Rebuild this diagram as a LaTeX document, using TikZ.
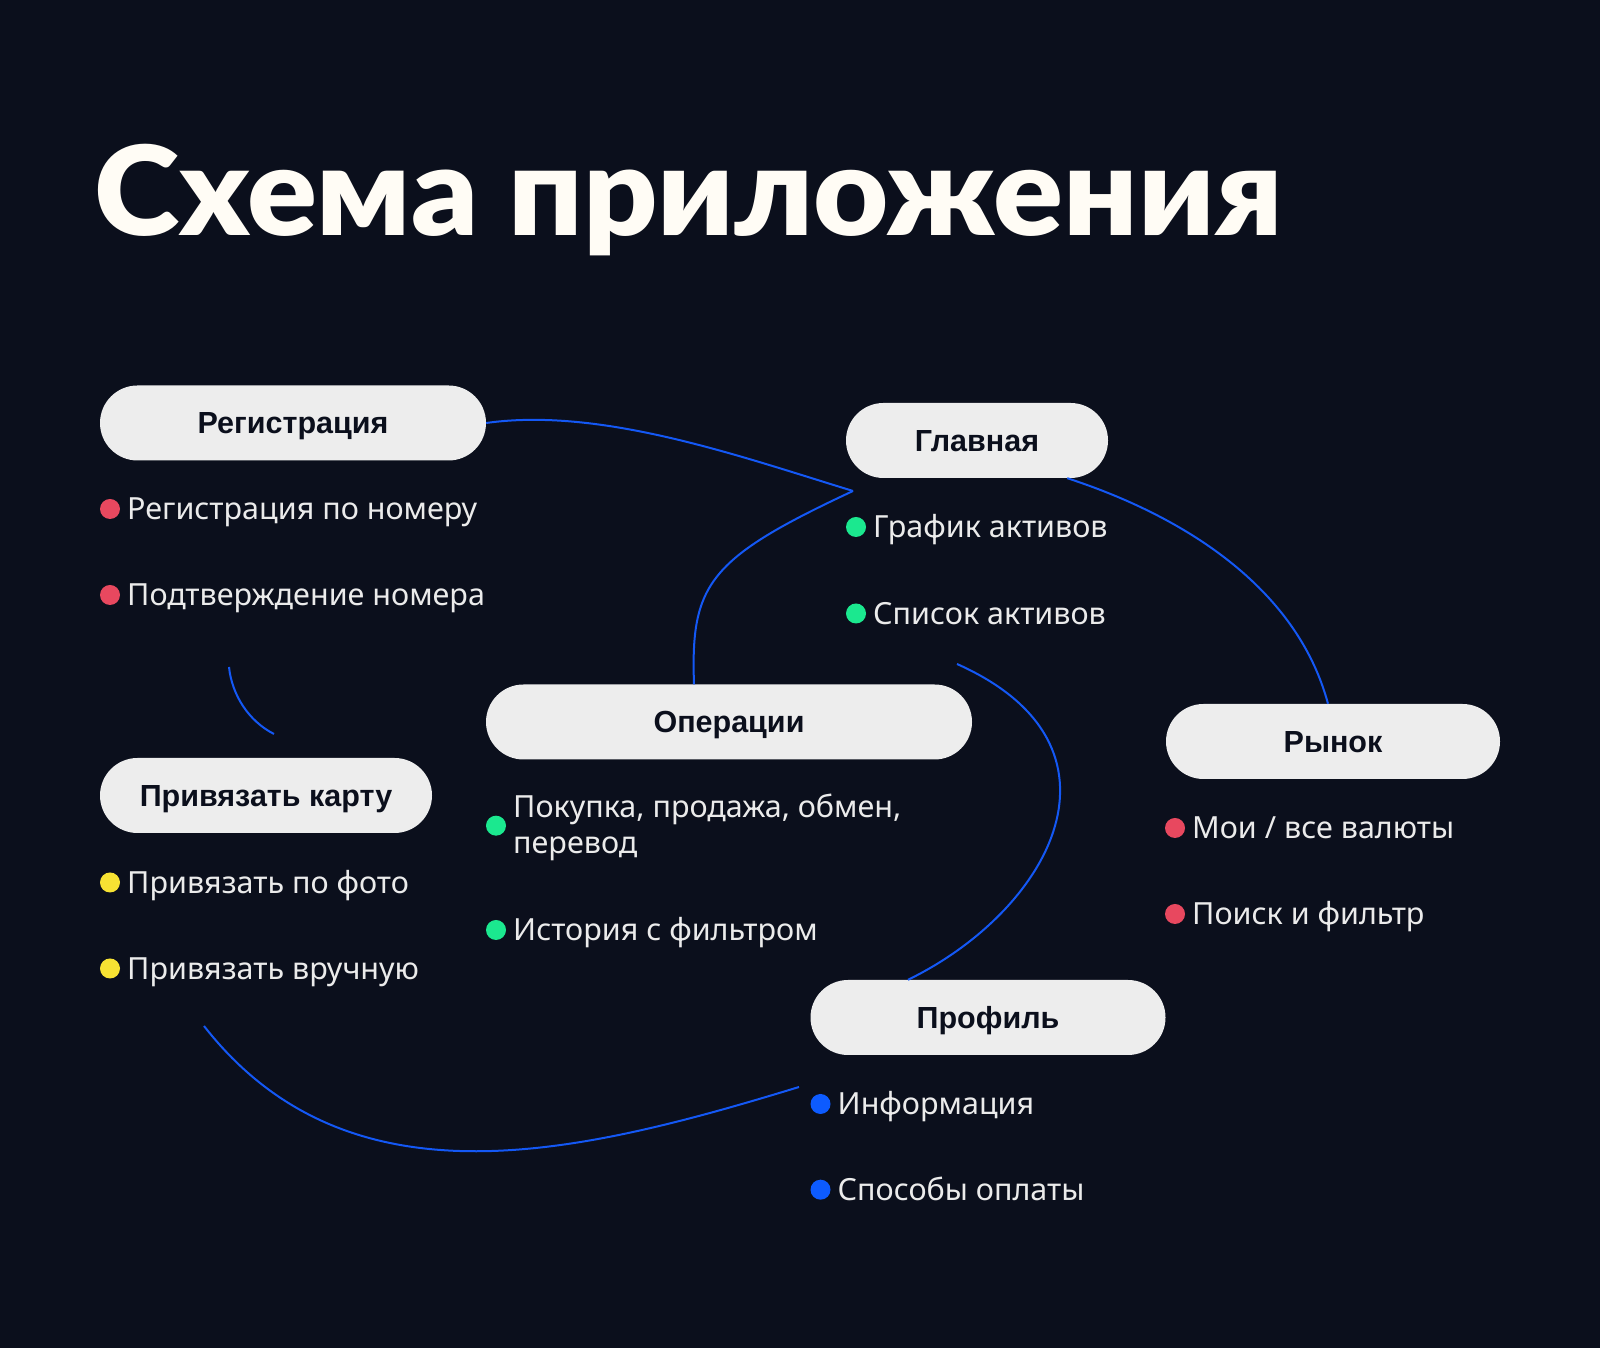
\documentclass[tikz,border=0pt]{standalone}
\usepackage{fontspec}
\setmainfont{Noto Sans}
\IfFontExistsTF{Lato Black}{\newfontfamily\titlefont{Lato Black}}{\newfontfamily\titlefont{Liberation Sans Bold}[FakeBold=2]}
\IfFontExistsTF{Noto Sans Bold}{\newfontfamily\labelfont{Noto Sans Bold}}{\newfontfamily\labelfont{Liberation Sans Bold}}
\usetikzlibrary{calc}
\definecolor{bg}{HTML}{0B0F1C}
\definecolor{pill}{HTML}{EDEDED}
\definecolor{ink}{HTML}{0B0F1C}
\definecolor{paper}{HTML}{EBEBEB}
\definecolor{snow}{HTML}{FFFCF5}
\definecolor{dotred}{HTML}{E8485F}
\definecolor{dotgreen}{HTML}{1BE88F}
\definecolor{dotyellow}{HTML}{F7E233}
\definecolor{dotblue}{HTML}{0D5BFF}
\definecolor{wire}{HTML}{1458F5}
\tikzset{
  screen/.style={fill=pill, text=ink, rounded corners=37.5pt, minimum height=75pt, inner sep=0pt,
    text height=22pt, text depth=0pt, font=\labelfont\fontsize{30.5}{36}\selectfont},
  itemtext/.style={anchor=base west, inner sep=0pt, text=paper, font=\fontsize{30.5}{36}\selectfont},
  link/.style={draw=wire, line width=2pt},
}
\def\dotitem[#1](#2,#3)#4#5{\fill[#1] (#2,#3) circle (10pt);
  \node[itemtext] (#4) at ($(#2,#3)+(17,-11)$) {#5};}

\begin{document}
\begin{tikzpicture}[x=1pt, y=1pt]
	%%%%% BACKGROUND %%%%%
	\fill[bg] (0,0) rectangle (1600,1348);
	\node[anchor=base west, inner sep=0pt, text=snow, font=\titlefont\fontsize{124}{130}\selectfont] (title) at (94,1112) {\scalebox{1.047}[1]{Схема приложения}};
	
	%%%%% SCREENS %%%%%
	\node[screen, minimum width=386pt] (reg) at (293,925) {Регистрация};
	\node[screen, minimum width=262pt] (home) at (977,907.5) {Главная};
	\node[screen, minimum width=486pt] (ops) at (729,626) {Операции};
	\node[screen, minimum width=332pt] (card) at (266,552.5) {Привязать карту};
	\node[screen, minimum width=334pt] (market) at (1333,606.5) {Рынок};
	\node[screen, minimum width=355pt] (profile) at (988,330.5) {Профиль};
	
	%%%%% ITEMS %%%%%
	\dotitem[dotred](110,839){regphone}{Регистрация по номеру}
	\dotitem[dotred](110,753){regcode}{Подтверждение номера}
	
	\dotitem[dotgreen](856,821){homechart}{График активов}
	\dotitem[dotgreen](856,734.5){homelist}{Список активов}
	
	\fill[dotgreen] (496,522.3) circle (10pt);
	\node[itemtext, align=left] (opstrade) at (513,494) {Покупка, продажа, обмен,\\перевод};
	\dotitem[dotgreen](496,418){opshistory}{История с фильтром}
	
	\dotitem[dotyellow](110,465.5){cardphoto}{Привязать по фото}
	\dotitem[dotyellow](110,379.5){cardhand}{Привязать вручную}
	
	\dotitem[dotred](1175,520){marketmine}{Мои / все валюты}
	\dotitem[dotred](1175,434){marketsearch}{Поиск и фильтр}
	
	\dotitem[dotblue](820.5,244){profileinfo}{Информация}
	\dotitem[dotblue](820.5,158.3){profilepay}{Способы оплаты}
	
	%%%%% LINKS %%%%%
	\coordinate (hub) at (853,857);
	\coordinate (listend) at (957,684);
	\coordinate (regend) at (229,681);
	\coordinate (cardtop) at (274,614);
	\coordinate (cardend) at (204,322);
	\coordinate (infostart) at (799,261);
	
	\draw[link] (reg.east) to[out=8, in=163, looseness=0.8] (hub);
	\draw[link] (hub) .. controls +(205:160) and +(92:100) .. ($(ops.north)+(-35,0)$);
	\draw[link] ($(home.south east)+(-41,0)$) to[out=-18, in=105, looseness=0.9] ($(market.north)+(-5,0)$);
	\draw[link] (listend) .. controls +(-24:200) and +(26:160) .. ($(profile.north)+(-80,0)$);
	\draw[link] (regend) to[out=-84, in=153, looseness=0.9] (cardtop);
	\draw[link] (cardend) to[out=-52, in=197] (infostart);
\end{tikzpicture}
\end{document}
